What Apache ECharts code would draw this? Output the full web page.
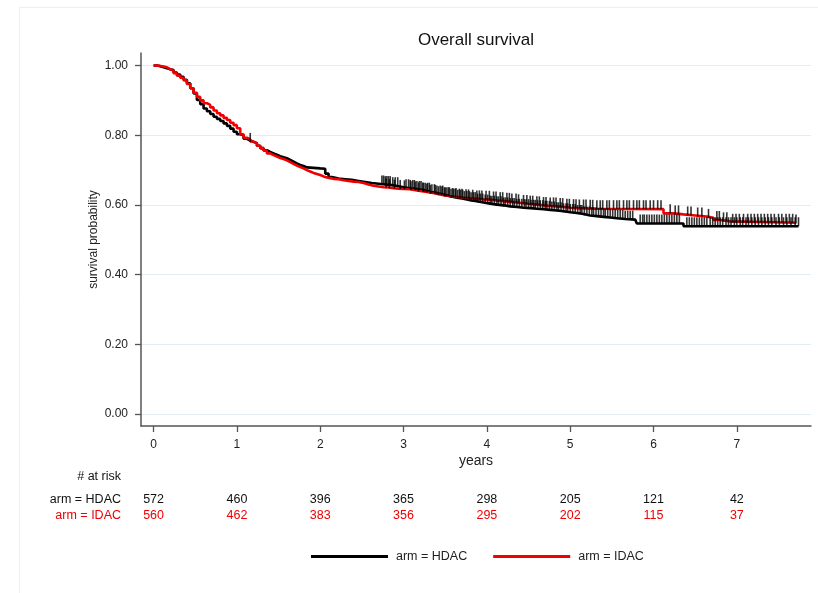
<!DOCTYPE html>
<html>
<head>
<meta charset="utf-8">
<script src="https://cdn.jsdelivr.net/npm/echarts@6.0.0/dist/echarts.min.js"></script>
<style>
  html, body { margin: 0; padding: 0; background: #fff; }
  #chart { width: 818px; height: 593px; }
</style>
</head>
<body>
<div id="chart"></div>
<script>
// KM curves (years, survival)
const hdacTime = [0, 0.04, 0.08, 0.12, 0.16, 0.20, 0.24, 0.28, 0.32, 0.36, 0.40, 0.44, 0.48, 0.52, 0.56, 0.60, 0.64, 0.68, 0.72, 0.76, 0.80, 0.84, 0.88, 0.92, 0.96, 1.00, 1.04, 1.08, 1.12, 1.16, 1.20, 1.24, 1.28, 1.32, 1.36, 1.40, 1.44, 1.48, 1.52, 1.56, 1.60, 1.64, 1.68, 1.72, 1.76, 1.80, 1.84, 2.00, 2.06, 2.10, 2.14, 2.22, 2.30, 2.38, 2.46, 2.54, 2.62, 2.70, 2.78, 2.86, 2.94, 3.00, 3.08, 3.16, 3.24, 3.32, 3.40, 3.48, 3.56, 3.64, 3.72, 3.80, 3.88, 3.96, 4.04, 4.12, 4.20, 4.28, 4.36, 4.44, 4.52, 4.60, 4.68, 4.76, 4.84, 4.92, 5.00, 5.08, 5.16, 5.24, 5.32, 5.40, 5.48, 5.56, 5.66, 5.78, 5.80, 6.36, 7.74]
const hdacSurv = [1.0, 0.998, 0.995, 0.992, 0.989, 0.987, 0.980, 0.974, 0.968, 0.959, 0.949, 0.935, 0.920, 0.901, 0.889, 0.877, 0.869, 0.861, 0.853, 0.847, 0.841, 0.834, 0.827, 0.819, 0.810, 0.803, 0.800, 0.790, 0.785, 0.781, 0.777, 0.770, 0.763, 0.757, 0.752, 0.748, 0.744, 0.740, 0.737, 0.734, 0.729, 0.724, 0.719, 0.715, 0.712, 0.708, 0.705, 0.704, 0.690, 0.680, 0.676, 0.674, 0.672, 0.669, 0.666, 0.663, 0.661, 0.659, 0.657, 0.654, 0.651, 0.648, 0.646, 0.643, 0.638, 0.634, 0.630, 0.625, 0.621, 0.618, 0.614, 0.611, 0.607, 0.604, 0.601, 0.599, 0.596, 0.594, 0.592, 0.591, 0.589, 0.588, 0.586, 0.584, 0.582, 0.579, 0.577, 0.574, 0.570, 0.568, 0.566, 0.564, 0.562, 0.560, 0.558, 0.557, 0.547, 0.539, 0.539]

const idacTime = [0, 0.04, 0.08, 0.12, 0.16, 0.20, 0.24, 0.28, 0.32, 0.36, 0.40, 0.44, 0.48, 0.52, 0.56, 0.60, 0.64, 0.68, 0.72, 0.76, 0.80, 0.84, 0.88, 0.92, 0.96, 1.00, 1.04, 1.08, 1.12, 1.16, 1.20, 1.24, 1.28, 1.32, 1.36, 1.40, 1.44, 1.48, 1.52, 1.56, 1.60, 1.64, 1.68, 1.72, 1.76, 1.80, 1.84, 1.88, 1.92, 1.96, 2.00, 2.04, 2.08, 2.12, 2.16, 2.22, 2.28, 2.34, 2.40, 2.46, 2.52, 2.58, 2.64, 2.70, 2.76, 2.82, 2.88, 2.94, 3.00, 3.08, 3.16, 3.24, 3.32, 3.40, 3.48, 3.56, 3.64, 3.72, 3.80, 3.88, 3.96, 4.04, 4.12, 4.20, 4.28, 4.36, 4.44, 4.52, 4.60, 4.68, 4.76, 4.84, 4.92, 5.00, 5.08, 5.20, 5.30, 6.12, 6.24, 6.36, 6.50, 6.64, 6.72, 6.80, 6.92, 7.71]
const idacSurv = [1.0, 0.999, 0.997, 0.995, 0.990, 0.985, 0.978, 0.971, 0.965, 0.958, 0.947, 0.935, 0.922, 0.910, 0.900, 0.892, 0.887, 0.880, 0.871, 0.863, 0.857, 0.850, 0.844, 0.836, 0.829, 0.820, 0.803, 0.793, 0.788, 0.782, 0.777, 0.770, 0.763, 0.756, 0.748, 0.743, 0.739, 0.735, 0.732, 0.728, 0.723, 0.718, 0.713, 0.709, 0.705, 0.700, 0.696, 0.692, 0.689, 0.686, 0.682, 0.679, 0.677, 0.675, 0.674, 0.671, 0.669, 0.667, 0.666, 0.663, 0.659, 0.655, 0.653, 0.651, 0.650, 0.648, 0.647, 0.646, 0.645, 0.642, 0.639, 0.636, 0.632, 0.628, 0.625, 0.623, 0.621, 0.619, 0.618, 0.616, 0.615, 0.613, 0.611, 0.609, 0.607, 0.605, 0.603, 0.601, 0.599, 0.597, 0.596, 0.594, 0.592, 0.591, 0.590, 0.589, 0.588, 0.576, 0.573, 0.570, 0.567, 0.563, 0.557, 0.553, 0.549, 0.547]

// censoring times (tick marks)
const hdacCensor = [1.16, 2.74, 2.76, 2.78, 2.80, 2.82, 2.84, 2.87, 2.90, 2.93, 3.03, 3.06, 3.08, 3.11, 3.13, 3.16, 3.19, 3.21, 3.24, 3.26, 3.29, 3.31, 3.34, 3.37, 3.40, 3.44, 3.47, 3.50, 3.52, 3.55, 3.57, 3.60, 3.62, 3.65, 3.68, 3.71, 3.73, 3.76, 3.79, 3.81, 3.84, 3.86, 3.89, 3.92, 3.95, 3.98, 4.01, 4.04, 4.06, 4.09, 4.12, 4.14, 4.17, 4.20, 4.22, 4.25, 4.28, 4.31, 4.33, 4.36, 4.39, 4.42, 4.45, 4.47, 4.50, 4.53, 4.56, 4.58, 4.61, 4.64, 4.67, 4.70, 4.72, 4.75, 4.78, 4.81, 4.84, 4.86, 4.89, 4.92, 4.95, 4.97, 5.00, 5.03, 5.06, 5.09, 5.12, 5.14, 5.17, 5.20, 5.23, 5.26, 5.28, 5.31, 5.34, 5.37, 5.40, 5.42, 5.45, 5.48, 5.51, 5.54, 5.57, 5.60, 5.63, 5.66, 5.69, 5.72, 5.75, 5.84, 5.87, 5.89, 5.92, 5.95, 5.98, 6.01, 6.04, 6.07, 6.10, 6.13, 6.16, 6.19, 6.22, 6.25, 6.28, 6.31, 6.40, 6.43, 6.46, 6.49, 6.52, 6.55, 6.58, 6.61, 6.64, 6.68, 6.71, 6.74, 6.77, 6.80, 6.83, 6.87, 6.90, 6.93, 6.97, 7.00, 7.04, 7.07, 7.11, 7.14, 7.18, 7.22, 7.26, 7.30, 7.34, 7.38, 7.42, 7.47, 7.51, 7.56, 7.60, 7.65, 7.70, 7.74]
const idacCensor = [2.79, 2.83, 2.89, 2.96, 3.01, 3.09, 3.14, 3.18, 3.23, 3.28, 3.32, 3.38, 3.42, 3.46, 3.49, 3.54, 3.59, 3.63, 3.67, 3.70, 3.75, 3.78, 3.83, 3.88, 3.91, 3.94, 3.99, 4.03, 4.08, 4.11, 4.16, 4.19, 4.24, 4.27, 4.30, 4.35, 4.38, 4.44, 4.48, 4.52, 4.55, 4.60, 4.63, 4.68, 4.71, 4.76, 4.80, 4.83, 4.88, 4.91, 4.96, 4.99, 5.04, 5.07, 5.11, 5.16, 5.19, 5.24, 5.27, 5.32, 5.36, 5.39, 5.44, 5.47, 5.52, 5.56, 5.59, 5.64, 5.68, 5.71, 5.76, 5.80, 5.83, 5.88, 5.91, 5.96, 6.00, 6.05, 6.09, 6.20, 6.26, 6.30, 6.41, 6.45, 6.53, 6.58, 6.66, 6.76, 6.79, 6.84, 6.88, 6.95, 6.99, 7.03, 7.08, 7.13, 7.17, 7.21, 7.25, 7.29, 7.33, 7.37, 7.41, 7.45, 7.50, 7.54, 7.59, 7.63, 7.67, 7.71]

// number at risk table
const riskYears = [0, 1, 2, 3, 4, 5, 6, 7]
const hdacRisk = [572, 460, 396, 365, 298, 205, 121, 42]
const idacRisk = [560, 462, 383, 356, 295, 202, 115, 37]

const xTicks = [0, 1, 2, 3, 4, 5, 6, 7]
const yTicks = [0, 0.2, 0.4, 0.6, 0.8, 1.0]

const FONT = '"Liberation Sans", Arial, sans-serif'
const RED = '#f00000'

// survival value of a step curve at time t
function stepAt(times, surv, t) {
  let s = surv[0]
  for (let i = 0; i < times.length; i++) {
    if (times[i] <= t) s = surv[i]
  }
  return s
}

const zip = (a, b) => a.map((v, i) => [v, b[i]])

const chart = echarts.init(document.getElementById('chart'))
chart.setOption({
  animation: false,
  backgroundColor: '#fff',
  textStyle: { fontFamily: FONT },
  grid: { left: 141, right: 7, top: 53, bottom: 167 },
  xAxis: {
    type: 'value', min: -0.151, max: 7.89,
    name: 'years', nameLocation: 'middle', nameGap: 28, nameMoveOverlap: false,
    nameTextStyle: { fontSize: 14, color: '#222', fontFamily: FONT },
    axisLine: { onZero: false, lineStyle: { color: '#555', width: 1.5 } },
    axisTick: { customValues: xTicks, length: 6, lineStyle: { color: '#555', width: 1.3 } },
    axisLabel: { customValues: xTicks, margin: 13, fontSize: 12, color: '#222', fontFamily: FONT },
    splitLine: { show: false }
  },
  yAxis: {
    type: 'value', min: -0.034, max: 1.036,
    name: 'survival probability', nameLocation: 'middle', nameGap: 41, nameRotate: 90, nameMoveOverlap: false,
    nameTextStyle: { fontSize: 12, color: '#222', fontFamily: FONT },
    axisLine: { show: true, onZero: false, lineStyle: { color: '#555', width: 1.5 } },
    axisTick: { show: true, customValues: yTicks, length: 6, lineStyle: { color: '#555', width: 1.3 } },
    axisLabel: { customValues: yTicks, margin: 13, fontSize: 12, color: '#222', fontFamily: FONT,
      formatter: v => v.toFixed(2) },
    splitLine: { show: true, lineStyle: { color: '#e3edf2', width: 1.2 } }
  },
  legend: {
    data: ['arm = HDAC', 'arm = IDAC'],
    icon: 'rect',
    left: 306, top: 545, itemWidth: 77, itemHeight: 3, itemGap: 26,
    textStyle: { fontSize: 12.5, color: '#222', fontFamily: FONT, padding: [0, 0, 0, 3] }
  },
  series: [
    {
      name: 'arm = HDAC', type: 'line', step: 'end', symbol: 'none',
      data: zip(hdacTime, hdacSurv),
      lineStyle: { color: '#000', width: 2.6 }, itemStyle: { color: '#000' }, z: 2
    },
    {
      name: 'arm = IDAC', type: 'line', step: 'end', symbol: 'none',
      data: zip(idacTime, idacSurv),
      lineStyle: { color: RED, width: 2.6 }, itemStyle: { color: RED }, z: 3
    },
    {
      name: 'censor HDAC', type: 'scatter', silent: true,
      data: hdacCensor.map(t => [t, stepAt(hdacTime, hdacSurv, t)]),
      symbol: 'rect', symbolSize: [1.6, 9], symbolOffset: [0, -4.5],
      itemStyle: { color: '#000' }, z: 4
    },
    {
      name: 'censor IDAC', type: 'scatter', silent: true,
      data: idacCensor.map(t => [t, stepAt(idacTime, idacSurv, t)]),
      symbol: 'rect', symbolSize: [1.6, 9], symbolOffset: [0, -4.5],
      itemStyle: { color: '#000' }, z: 4
    }
  ]
})

// title, frame and the risk table, placed with the chart's own x scale
const gfx = [
  { type: 'rect', shape: { x: 19.5, y: 7.5, width: 900, height: 700 }, style: { fill: 'none', stroke: '#eeeeee', lineWidth: 1 }, silent: true },
  { type: 'text', x: 476, y: 40, style: { text: 'Overall survival', font: '17px ' + FONT, fill: '#111', textAlign: 'center', textVerticalAlign: 'middle' } },
  { type: 'text', x: 121, y: 477, style: { text: '# at risk', font: '12.5px ' + FONT, fill: '#111', textAlign: 'right', textVerticalAlign: 'middle' } },
  { type: 'text', x: 121, y: 500, style: { text: 'arm = HDAC', font: '12.5px ' + FONT, fill: '#111', textAlign: 'right', textVerticalAlign: 'middle' } },
  { type: 'text', x: 121, y: 516, style: { text: 'arm = IDAC', font: '12.5px ' + FONT, fill: RED, textAlign: 'right', textVerticalAlign: 'middle' } }
]
riskYears.forEach((yr, i) => {
  const px = chart.convertToPixel({ xAxisIndex: 0 }, yr)
  gfx.push({ type: 'text', x: px, y: 500, style: { text: String(hdacRisk[i]), font: '12.5px ' + FONT, fill: '#111', textAlign: 'center', textVerticalAlign: 'middle' } })
  gfx.push({ type: 'text', x: px, y: 516, style: { text: String(idacRisk[i]), font: '12.5px ' + FONT, fill: RED, textAlign: 'center', textVerticalAlign: 'middle' } })
})
chart.setOption({ graphic: gfx })
</script>
</body>
</html>
